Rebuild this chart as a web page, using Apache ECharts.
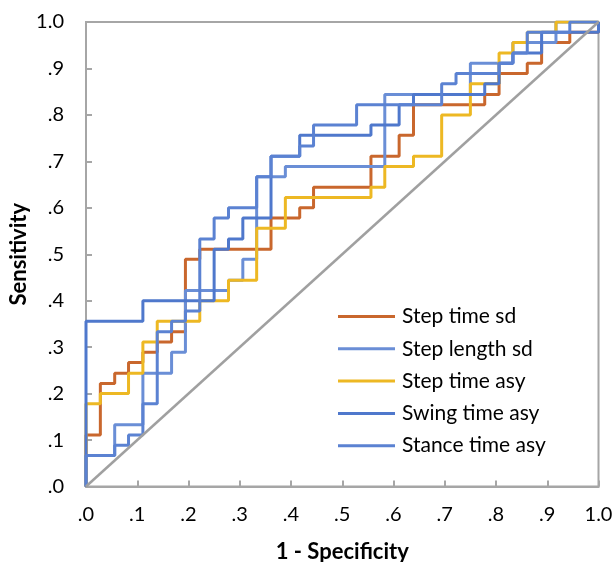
<!DOCTYPE html>
<html>
<head>
<meta charset="utf-8">
<script src="https://cdn.jsdelivr.net/npm/echarts@6/dist/echarts.min.js"></script>
<style>
html,body{margin:0;padding:0;background:#fff;}
#chart{width:616px;height:562px;}
</style>
</head>
<body>
<div id="chart"></div>
<script>
// ROC corner points [1 - specificity, sensitivity]; drawn as step curves (vertical first)
var seriesNames = ['Step time sd', 'Step length sd', 'Step time asy', 'Swing time asy', 'Stance time asy'];
var seriesColors = ['#C9672D', '#6A8ED6', '#EDB823', '#4F78CC', '#5B82D2'];

var stepTimeSd = [
  [0,0],[0.028,0.111],[0.056,0.222],[0.083,0.244],[0.111,0.267],[0.139,0.289],[0.167,0.311],
  [0.194,0.333],[0.222,0.489],[0.361,0.511],[0.417,0.578],[0.444,0.6],[0.556,0.644],
  [0.611,0.711],[0.639,0.756],[0.778,0.822],[0.806,0.844],[0.861,0.889],[0.889,0.911],
  [0.944,0.956],[1,0.978],[1,1]
];
var stepLengthSd = [
  [0,0],[0.056,0.067],[0.111,0.133],[0.167,0.244],[0.194,0.289],[0.278,0.422],[0.306,0.444],
  [0.333,0.489],[0.389,0.667],[0.583,0.689],[0.75,0.844],[0.833,0.911],[0.917,0.956],[1,1]
];
var stepTimeAsy = [
  [0,0],[0.028,0.178],[0.083,0.2],[0.111,0.244],[0.139,0.311],[0.222,0.356],[0.278,0.4],
  [0.333,0.444],[0.389,0.556],[0.556,0.622],[0.583,0.644],[0.639,0.689],[0.694,0.711],
  [0.75,0.8],[0.806,0.867],[0.833,0.933],[0.861,0.956],[0.917,0.978],[1,1]
];
var swingTimeAsy = [
  [0,0],[0.111,0.356],[0.25,0.4],[0.278,0.511],[0.306,0.533],[0.361,0.578],[0.417,0.711],
  [0.556,0.756],[0.611,0.778],[0.639,0.822],[0.778,0.844],[0.806,0.867],[0.833,0.911],
  [0.889,0.933],[1,0.978],[1,1]
];
var stanceTimeAsy = [
  [0,0],[0.056,0.067],[0.083,0.089],[0.111,0.111],[0.139,0.178],[0.167,0.333],[0.194,0.356],
  [0.222,0.378],[0.25,0.533],[0.278,0.578],[0.333,0.6],[0.361,0.667],[0.417,0.711],
  [0.444,0.733],[0.528,0.778],[0.694,0.822],[0.722,0.867],[0.806,0.889],[0.833,0.911],
  [0.861,0.933],[0.944,0.978],[1,1]
];
var referenceLine = [[0,0],[1,1]];

var xTickLabels = ['.0','.1','.2','.3','.4','.5','.6','.7','.8','.9','1.0'];
var yTickLabels = ['.0','.1','.2','.3','.4','.5','.6','.7','.8','.9','1.0'];

var curves = [stepTimeSd, stepLengthSd, stepTimeAsy, swingTimeAsy, stanceTimeAsy];

var FONT = 'Lato';
var axisGray = '#A6A6A6';

var series = curves.map(function (d, i) {
  return {
    name: seriesNames[i],
    type: 'line',
    step: 'start',
    data: d,
    symbol: 'none',
    showSymbol: false,
    lineStyle: { width: 3, color: seriesColors[i] },
    itemStyle: { color: seriesColors[i] },
    silent: true
  };
});
series.push({
  name: 'ref',
  type: 'line',
  data: referenceLine,
  symbol: 'none',
  lineStyle: { width: 2.5, color: '#A0A0A0' },
  silent: true
});

var chart = echarts.init(document.getElementById('chart'), null, { renderer: 'canvas' });
chart.setOption({
  animation: false,
  backgroundColor: '#fff',
  grid: {
    left: 86, right: 17.5, top: 22, bottom: 75.5,
    outerBoundsMode: 'none', containLabel: false,
    show: true, borderColor: axisGray, borderWidth: 2, backgroundColor: 'transparent'
  },
  legend: {
    data: seriesNames.map(function (n) { return { name: n, icon: 'rect' }; }),
    orient: 'vertical',
    left: 333,
    top: 299.5,
    itemWidth: 57,
    itemHeight: 3,
    itemGap: 8.3,
    textStyle: { fontFamily: FONT, fontSize: 21, color: '#000', lineHeight: 24, padding: [0, 0, 0, 2] },
    selectedMode: false
  },
  xAxis: {
    type: 'value', min: 0, max: 1, interval: 0.1,
    name: '1 - Specificity', nameLocation: 'middle', nameGap: 54, nameMoveOverlap: false,
    nameTextStyle: { fontFamily: FONT, fontSize: 22, fontWeight: 'bold', color: '#000' },
    axisLine: { show: true, lineStyle: { color: axisGray, width: 2 } },
    axisTick: { show: true, inside: true, length: 6, lineStyle: { color: axisGray, width: 2 } },
    axisLabel: {
      fontFamily: FONT, fontSize: 20, color: '#000', margin: 18,
      formatter: function (v) { return xTickLabels[Math.round(v * 10)]; }
    },
    splitLine: { show: false }
  },
  yAxis: {
    type: 'value', min: 0, max: 1, interval: 0.1,
    name: 'Sensitivity', nameLocation: 'middle', nameGap: 56, nameRotate: 90, nameMoveOverlap: false,
    nameTextStyle: { fontFamily: FONT, fontSize: 22, fontWeight: 'bold', color: '#000' },
    axisLine: { show: true, lineStyle: { color: axisGray, width: 2 } },
    axisTick: { show: true, inside: true, length: 6, lineStyle: { color: axisGray, width: 2 } },
    axisLabel: {
      fontFamily: FONT, fontSize: 20, color: '#000', margin: 22,
      formatter: function (v) { return yTickLabels[Math.round(v * 10)]; }
    },
    splitLine: { show: false }
  },
  series: series
});
</script>
</body>
</html>
